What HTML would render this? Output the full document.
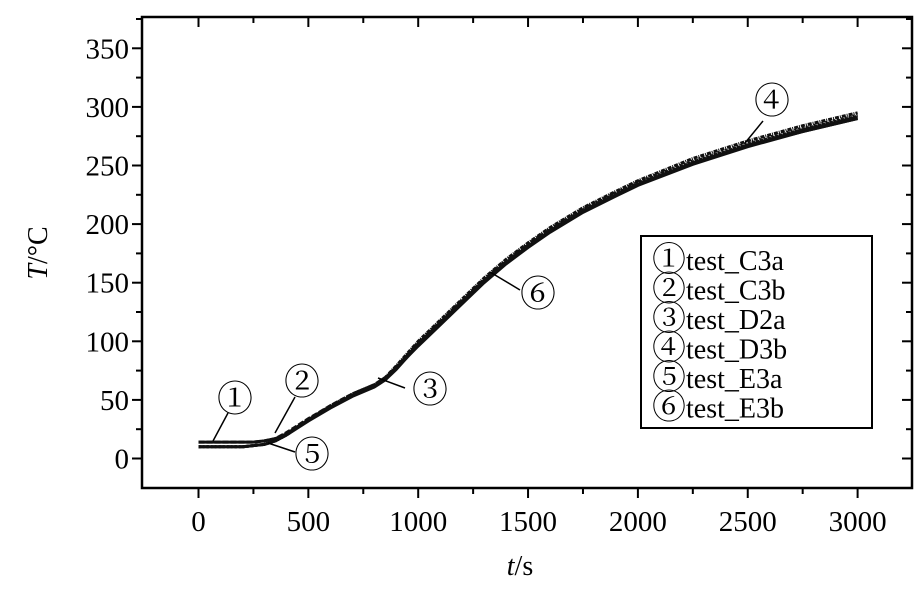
<!DOCTYPE html>
<html><head><meta charset="utf-8"><style>
body{margin:0;background:#fff}
svg text{font-family:"Liberation Serif","Noto Serif CJK SC",serif;fill:#000}
</style></head><body>
<svg width="922" height="591" xmlns="http://www.w3.org/2000/svg">
<g id="plot"></g>
</svg>
<script>
const times=[0,100,200,250,300,350,400,500,600,700,800,850,900,1000,1100,1200,1300,1400,1500,1600,1750,1900,2000,2250,2500,2750,3000];
const seriesNames=["test_C3a","test_C3b","test_D2a","test_D3b","test_E3a","test_E3b"];
const s1=[14,14,14,14,15,17,21,33,44,54,62,68,77,96,114,132,150,166,180,193,210,224,233,251,266,279,290];
const s2=[14,14,14,14,15,17,22,34,45,55,63,69,78,98,116,134,152,167,181,194,211,225,234,252,267,280,291];
const s3=[10,10,10,11,12,15,20,33,44,54,62,68,78,99,117,135,153,169,183,196,213,227,236,254,269,282,293];
const s4=[10,10,10,11,12,15,20,33,45,55,63,69,79,100,118,136,154,170,184,197,214,228,237,256,271,284,295];
const s5=[10,10,10,11,12,15,20,32,43,53,61,67,76,97,115,133,151,167,181,194,211,225,234,252,267,279,290];
const s6=[10,10,10,11,12,15,21,33,44,54,62,68,77,98,116,134,152,168,182,195,212,226,235,253,268,281,292];
const allSeries=[s1,s2,s3,s4,s5,s6];
const xTicks=[0,500,1000,1500,2000,2500,3000];
const yTicks=[0,50,100,150,200,250,300,350];

const NS="http://www.w3.org/2000/svg";
const g=document.getElementById('plot');
const L=142,R=912,T=17,B=488;
const X=v=>198.5+v*0.2197;
const Y=v=>458.5-v*1.172;
function el(tag,attrs,parent){const e=document.createElementNS(NS,tag);for(const k in attrs)e.setAttribute(k,attrs[k]);(parent||g).appendChild(e);return e;}

const frame=el('rect',{x:L,y:T,width:R-L,height:B-T,fill:'none',stroke:'#000','stroke-width':2.5});



for(let v=-250;v<=3250;v+=250){
  const x=X(v); if(x<L+2||x>R-2)continue;
  const major=v%500===0;
  const t=el('line',{x1:x,x2:x,y1:B,y2:B+(major?10:6),stroke:'#000','stroke-width':2});
  
  
  const t2=el('line',{x1:x,x2:x,y1:T,y2:T+(major?10:6),stroke:'#000','stroke-width':2});
  
  
}
xTicks.forEach(v=>{
  const t=el('text',{x:X(v),y:531,'font-size':29,'text-anchor':'middle'});
  t.textContent=v;
  
  
});
for(let v=-25;v<=375;v+=25){
  const y=Y(v); if(y<T+2||y>B-2)continue;
  const major=v%50===0;
  const t=el('line',{x1:L-(major?10:6),x2:L,y1:y,y2:y,stroke:'#000','stroke-width':2});
  
  
  const t2=el('line',{x1:R-(major?10:6),x2:R,y1:y,y2:y,stroke:'#000','stroke-width':2});
  
  
}
yTicks.forEach(v=>{
  const t=el('text',{x:129,y:Y(v)+10,'font-size':29,'text-anchor':'end'});
  t.textContent=v;
  
  
});
const xt=el('text',{x:520,y:575,'font-size':28,'text-anchor':'middle'});
xt.innerHTML='<tspan font-style="italic">t</tspan>/s';


const yt=el('text',{x:0,y:0,'font-size':28,'text-anchor':'middle',transform:'translate(47,253) rotate(-90)'});
yt.innerHTML='<tspan font-style="italic">T</tspan>/°C';



const dashes=['none','6 2','2 2','4 1 1 1','none','3 1'];
allSeries.forEach((s,i)=>{
  const d=s.map((v,j)=>(j?'L':'M')+X(times[j]).toFixed(1)+' '+Y(v).toFixed(1)).join(' ');
  const p=el('path',{d:d,fill:'none',stroke:'#111','stroke-width':3,'stroke-dasharray':dashes[i]});
  
  
});

const ann=[['①',235,399,228,413,213,441],['②',302,382,295,397,275,433],['③',430,390,405,388,378,378],['④',772,101,763,121,745,143],['⑤',312,455,295,452,268,443],['⑥',538,294,520,290,490,272]];
ann.forEach((a,i)=>{
  const l=el('line',{x1:a[3],y1:a[4],x2:a[5],y2:a[6],stroke:'#000','stroke-width':1.5});
  
  
  const t=el('text',{x:a[1],y:a[2]+12,'font-size':36,'text-anchor':'middle'});
  t.textContent=a[0];
  
  
});

const lg=el('g',{});


el('rect',{x:641,y:236,width:231,height:192,fill:'#fff',stroke:'#000','stroke-width':2},lg);
const circ=['①','②','③','④','⑤','⑥'];
seriesNames.forEach((n,i)=>{
  const t=el('text',{x:652,y:270+i*29.5,'font-size':28},lg);
  t.innerHTML='<tspan font-size="34" dy="1">'+circ[i]+'</tspan><tspan dy="-1">'+n+'</tspan>';
  
  
});
</script>
</body></html>
